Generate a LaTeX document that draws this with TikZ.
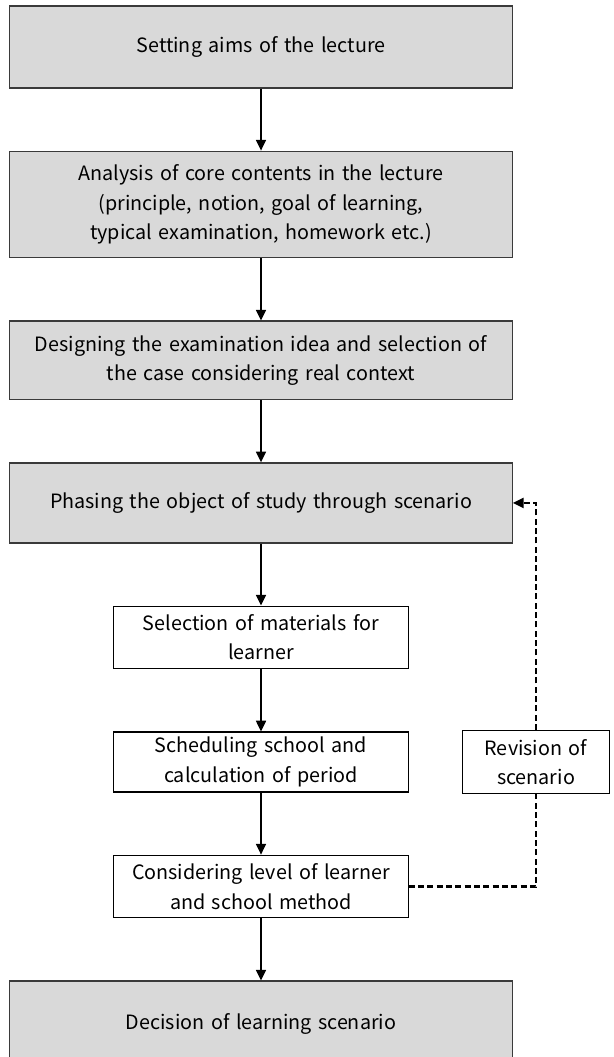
\documentclass[tikz,border=0pt]{standalone}
\usepackage{fontspec}
\setmainfont{Noto Sans CJK KR}
\usetikzlibrary{positioning, arrows.meta}
\definecolor{boxgray}{HTML}{D9D9D9}
\definecolor{boxline}{HTML}{3A3A3A}

\begin{document}
\begin{tikzpicture}[x=0.75pt, y=-0.75pt, node distance=46.5pt, font=\fontsize{14.8}{22}\selectfont]
\useasboundingbox (0,0) rectangle (614,1057);
% Define styles
\tikzstyle{mainbox} = [rectangle, minimum width=377pt, text width=370pt, align=center, draw=boxline, line width=0.9pt, fill=boxgray]
\tikzstyle{subbox} = [rectangle, minimum width=220pt, text width=214pt, align=center, draw=black, line width=0.9pt, fill=white]
\tikzstyle{revbox} = [rectangle, minimum width=110pt, minimum height=47pt, text width=104pt, align=center, draw=black, line width=0.9pt, fill=white]
\tikzstyle{arrow} = [line width=1.3pt, -{Triangle[length=8pt, width=7.5pt]}]
\tikzstyle{feedback} = [line width=1.7pt, dash pattern=on 4.5pt off 2.5pt]

% Nodes
\node (aims) [mainbox, minimum height=61.5pt] at (261,47) {Setting aims of the lecture};
\node (core) [mainbox, minimum height=80pt, below=of aims] {Analysis of core contents in the lecture\\(principle, notion, goal of learning,\\typical examination, homework etc.)};
\node (idea) [mainbox, minimum height=59pt, below=of core] {Designing the examination idea and selection of\\the case considering real context};
\node (phase) [mainbox, minimum height=60pt, below=of idea] {Phasing the object of study through scenario};
\node (mat) [subbox, minimum height=47pt, below=of phase] {Selection of materials for\\learner};
\node (sched) [subbox, minimum height=45pt, below=of mat] {Scheduling school and\\calculation of period};
\node (level) [subbox, minimum height=47pt, below=of sched] {Considering level of learner\\and school method};
\node (decide) [mainbox, minimum height=75pt, below=of level, text depth=14pt] {Decision of learning scenario};
\node (rev) [revbox] at (536,762) {Revision of\\scenario};

% Arrows
\draw [arrow] (aims) -- (core);
\draw [arrow] (core) -- (idea);
\draw [arrow] (idea) -- (phase);
\draw [arrow] (phase) -- (mat);
\draw [arrow] (mat) -- (sched);
\draw [arrow] (sched) -- (level);
\draw [arrow] (level) -- (decide);

% Feedback loop
\draw [feedback] (level.east) -| (rev.south);
\draw [feedback, -{Triangle[length=8pt, width=7.5pt]}] (rev.north) |- (phase.east);

\end{tikzpicture}
\end{document}
